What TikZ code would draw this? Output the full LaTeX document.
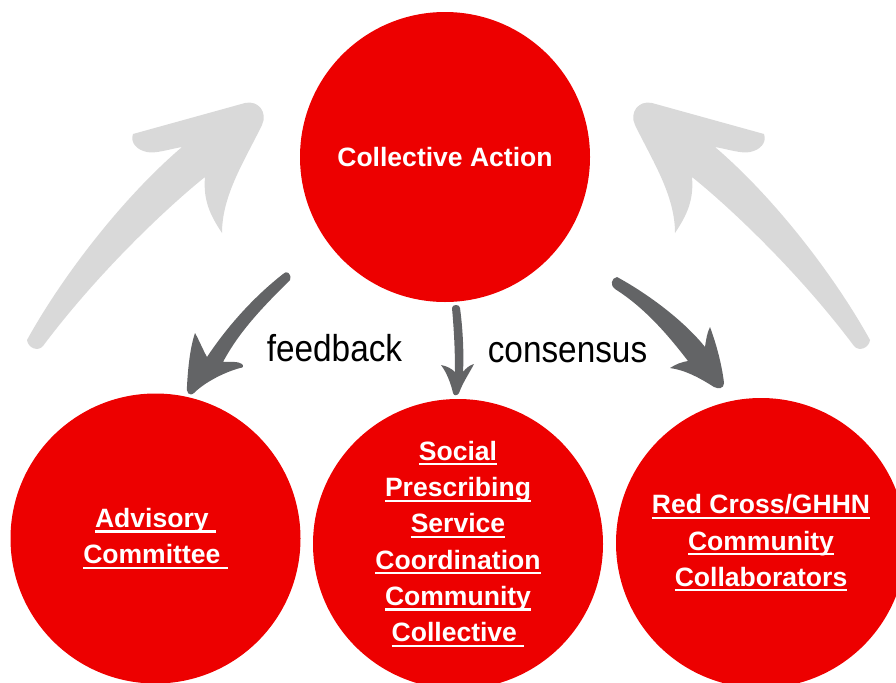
\documentclass[tikz,border=0pt]{standalone}
\usepackage{graphicx}
\usepackage{fontspec}
\setmainfont{Liberation Sans}
\definecolor{cred}{RGB}{237,0,0}
\definecolor{darkarr}{RGB}{99,100,102}
\definecolor{lightarr}{RGB}{217,217,217}
\newcommand\myul[1]{\setbox0=\hbox{#1}\rlap{\rule[-3.8pt]{\wd0}{1.6pt}}\box0}
\tikzset{
  bubble/.style={circle, fill=cred, minimum size=217.5pt, inner sep=0pt,
    text=white, align=center, font=\bfseries\fontsize{19.9}{27.2}\selectfont},
  lbl/.style={anchor=base, inner sep=0pt, text=black, font=\fontsize{28.1}{30}\selectfont},
  light/.style={fill=lightarr},
  dark/.style={fill=darkarr}
}
\begin{document}
\begin{tikzpicture}[x=0.75pt,y=-0.75pt]
\useasboundingbox (0,0) rectangle (896,682);
% light grey arrows
\def\lightpath{(27,340) .. controls (60,280) and (120,200) .. (182,147)
  .. controls (170,149) and (155,154) .. (147,152)
  .. controls (137,150) and (130,143) .. (133,134)
  -- (245,103)
  .. controls (258,100) and (268,112) .. (262,125)
  .. controls (245,160) and (222,195) .. (222,233)
  .. controls (210,215) and (203,200) .. (205,177)
  .. controls (170,205) and (100,270) .. (43,346)
  .. controls (38,352) and (28,348) .. (27,340) -- cycle}
\fill[light] \lightpath;
\begin{scope}[shift={(897,0)},xscale=-1]
\fill[light] \lightpath;
\end{scope}
% circles
\node[bubble] (top) at (445,157) {Collective Action};
\node[bubble] (adv) at (155.5,538.5) {\myul{Advisory\ }\\\myul{Committee\ }};
\node[bubble] (mid) at (458,544) {\myul{Social}\\\myul{Prescribing}\\\myul{Service}\\\myul{Coordination}\\\myul{Community}\\\myul{Collective\ }};
\node[bubble] (red) at (761,543) {\myul{Red Cross/GHHN}\\\myul{Community}\\\myul{Collaborators}};
% dark arrows
\fill[dark] (283,274) .. controls (286,270) and (292,273) .. (290,280)
  .. controls (265,305) and (240,330) .. (223,362)
  .. controls (230,362) and (238,361) .. (242,364)
  .. controls (244,366) and (243,368) .. (240,368)
  .. controls (225,372) and (205,382) .. (194,393)
  .. controls (189,397) and (186,392) .. (187,386)
  .. controls (188,368) and (190,348) .. (195,333)
  .. controls (199,340) and (203,350) .. (207,357)
  .. controls (225,330) and (250,300) .. (283,274) -- cycle;
\fill[dark] (452,308) .. controls (452,304) and (460,304) .. (460,308)
  .. controls (463,330) and (464,355) .. (463,372)
  .. controls (466,368) and (470,365) .. (474,364)
  .. controls (470,372) and (463,382) .. (459,393)
  .. controls (457,396) and (454,396) .. (453,393)
  .. controls (451,384) and (447,373) .. (441,365)
  .. controls (447,366) and (452,369) .. (455,372)
  .. controls (455,350) and (454,330) .. (452,308) -- cycle;
\fill[dark] (617,277) .. controls (650,295) and (685,322) .. (705,347)
  .. controls (706,340) and (707,333) .. (710,327)
  .. controls (716,343) and (722,365) .. (724,383)
  .. controls (724,389) and (718,389) .. (714,387)
  .. controls (700,378) and (685,370) .. (670,368)
  .. controls (676,364) and (682,362) .. (688,361)
  .. controls (668,335) and (645,308) .. (615,289)
  .. controls (610,286) and (611,278) .. (617,277) -- cycle;
% labels
\node[lbl] (fb) at (334.5,361) {\scalebox{0.89}[1]{feedback}};
\node[lbl] (cs) at (567.5,362) {\scalebox{0.89}[1]{consensus}};
\end{tikzpicture}
\end{document}
